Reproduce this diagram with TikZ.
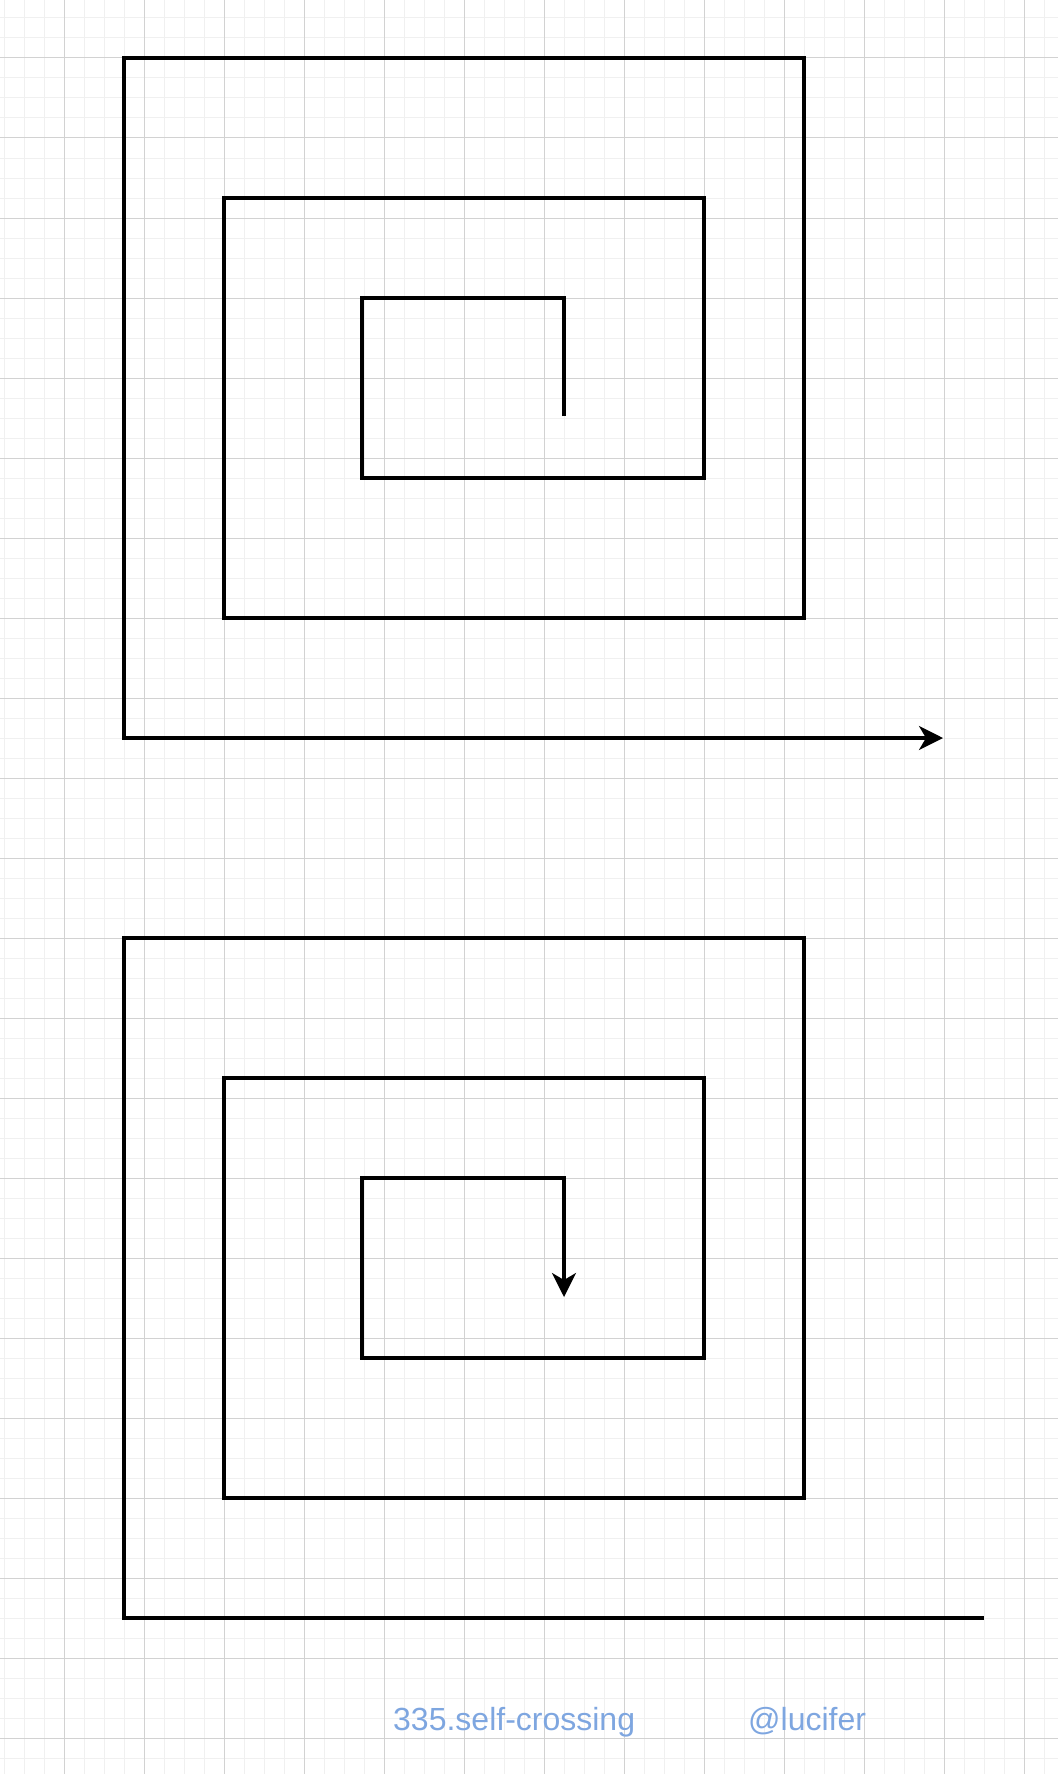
\documentclass[tikz,border=0pt]{standalone}
\usepackage{fontspec}
\setmainfont{Liberation Sans}
\usetikzlibrary{arrows.meta}
\definecolor{gridminor}{RGB}{240,240,240}
\definecolor{gridmajor}{RGB}{210,210,210}
\definecolor{labelblue}{RGB}{126,166,224}
\tikzset{
  spiral/.style={line width=3.4pt, black, line join=miter},
  tip/.style={-{Stealth[length=24pt, width=24pt, inset=7pt]}},
  caption/.style={text=labelblue, font=\fontsize{32}{37}\selectfont, inner sep=0pt, anchor=base west}
}
\begin{document}
\begin{tikzpicture}[x=1pt, y=-1pt]
\useasboundingbox (0,0) rectangle (1058,1774);
\fill[white] (0,0) rectangle (1058,1774);
\begin{scope}
\clip (0,0) rectangle (1058,1774);
\foreach \x in {4,24,...,1058} \draw[gridminor, line width=1pt] (\x,0) -- (\x,1774);
\foreach \y in {18,38,...,1774} \draw[gridminor, line width=1pt] (0,\y) -- (1058,\y);
\foreach \x in {64,144,...,1058} \draw[gridmajor, line width=1pt] (\x,0) -- (\x,1774);
\foreach \y in {58,138,...,1774} \draw[gridmajor, line width=1pt] (0,\y) -- (1058,\y);
\end{scope}
% top spiral
\coordinate (a0) at (564,416);
\coordinate (a1) at (564,298);
\coordinate (a2) at (362,298);
\coordinate (a3) at (362,478);
\coordinate (a4) at (704,478);
\coordinate (a5) at (704,198);
\coordinate (a6) at (224,198);
\coordinate (a7) at (224,618);
\coordinate (a8) at (804,618);
\coordinate (a9) at (804,58);
\coordinate (a10) at (124,58);
\coordinate (a11) at (124,738);
\coordinate (a12) at (943,738);
\draw[spiral, tip] (a0) -- (a1) -- (a2) -- (a3) -- (a4) -- (a5) -- (a6) -- (a7) -- (a8) -- (a9) -- (a10) -- (a11) -- (a12);
% bottom spiral
\coordinate (b0) at (564,1297);
\coordinate (b1) at (564,1178);
\coordinate (b2) at (362,1178);
\coordinate (b3) at (362,1358);
\coordinate (b4) at (704,1358);
\coordinate (b5) at (704,1078);
\coordinate (b6) at (224,1078);
\coordinate (b7) at (224,1498);
\coordinate (b8) at (804,1498);
\coordinate (b9) at (804,938);
\coordinate (b10) at (124,938);
\coordinate (b11) at (124,1618);
\coordinate (b12) at (984,1618);
\draw[spiral, tip] (b12) -- (b11) -- (b10) -- (b9) -- (b8) -- (b7) -- (b6) -- (b5) -- (b4) -- (b3) -- (b2) -- (b1) -- (b0);
% captions
\node[caption] (title) at (393,1730) {335.self-crossing};
\node[caption] (author) at (748,1730) {@lucifer};
\end{tikzpicture}
\end{document}
